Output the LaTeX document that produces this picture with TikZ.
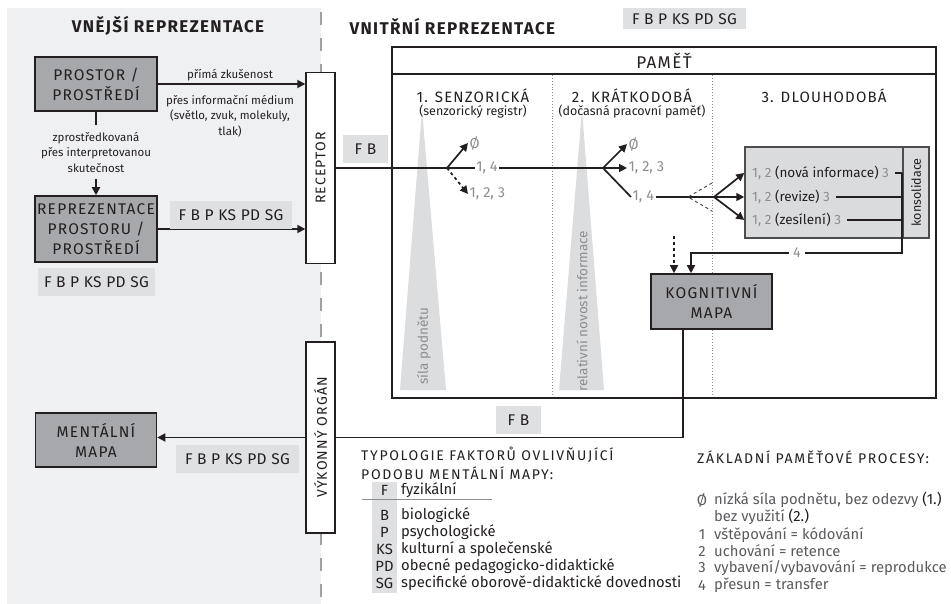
\documentclass[tikz,border=0pt]{standalone}
\usepackage{fontspec}
\setmainfont{Fira Sans}
\newfontfamily\spc[LetterSpace=8]{Fira Sans}
\newfontfamily\spcw[LetterSpace=12]{Fira Sans}
\newfontfamily\spcl[LetterSpace=3]{Fira Sans}
\usetikzlibrary{arrows.meta}
\definecolor{panelbg}{HTML}{EFF0F2}
\definecolor{boxdark}{HTML}{A7A8AB}
\definecolor{lbl}{HTML}{DFE0E2}
\definecolor{tri}{HTML}{DCDDDF}
\definecolor{ltfill}{HTML}{DADBDD}
\definecolor{ltborder}{HTML}{4D4D4F}
\definecolor{ink}{HTML}{231F20}
\definecolor{numgray}{HTML}{8C8D90}
\definecolor{leggray}{HTML}{5A5B5E}
\definecolor{dashgray}{HTML}{A0A1A4}
\begin{document}
\begin{tikzpicture}[x=1pt,y=-1pt,
  darkbox/.style={draw=ink, line width=1.6pt, fill=boxdark, align=center, text=ink, font=\fontsize{15.5}{20}\spc, inner sep=0pt},
  organ/.style={draw=ink, line width=1.4pt, fill=white, inner sep=0pt, minimum width=29pt, minimum height=191pt},
  organtxt/.style={rotate=90, font=\fontsize{14}{16}\spc, text=ink},
  lblbox/.style={fill=lbl, font=\fontsize{15.5}{17}\spcl, text=ink, inner sep=0pt, minimum height=28pt},
  conn/.style={draw=ink, line width=1.7pt},
  arr/.style={conn, -{Triangle[length=8pt,width=8pt]}},
  small/.style={font=\fontsize{11.5}{15.5}\selectfont, text=ink, align=center, inner sep=1pt},
  gnum/.style={font=\fontsize{14.5}{16}\selectfont, text=numgray, inner sep=1.5pt},
  coltitle/.style={font=\fontsize{15}{17}\spc, text=ink},
  colsub/.style={font=\fontsize{12.5}{14}\selectfont, text=ink},
  rotlbl/.style={rotate=90, font=\fontsize{13.5}{15}\selectfont, text=numgray},
  divider/.style={draw=numgray, line width=0.9pt, dotted},
  row/.style={font=\fontsize{13.5}{15}\selectfont, text=ink, inner xsep=4pt, inner ysep=1pt},
  legtitle/.style={font=\fontsize{14}{17}\spcw, text=ink, anchor=west, inner sep=0pt},
  legtxt/.style={font=\fontsize{14.8}{16}\selectfont, text=ink, anchor=west, inner sep=0pt},
  legabbr/.style={font=\fontsize{14.8}{16}\selectfont, text=ink, inner sep=0pt},
  rtxt/.style={font=\fontsize{14.8}{16}\selectfont, text=leggray, anchor=west, inner sep=0pt},
  rnum/.style={font=\fontsize{14.8}{16}\selectfont, text=leggray, inner sep=0pt},
]
\useasboundingbox (0,0) rectangle (951,604);
\fill[white] (0,0) rectangle (951,604);
% left panel
\fill[panelbg] (7,8) rectangle (321,604);
\draw[dashgray, line width=2.5pt, dash pattern=on 13pt off 13pt] (321,12) -- (321,604);

% headers
\node[font=\fontsize{17}{20}\spc\bfseries, text=ink] (hext) at (168,26) {VNĚJŠÍ REPREZENTACE};
\node[font=\fontsize{17}{20}\spc\bfseries, text=ink, anchor=west] (hint) at (346,27) {VNITŘNÍ REPREZENTACE};
\node[lblbox, minimum width=123pt, minimum height=21pt] (lbTop) at (684.5,19) {F B P KS PD SG};

% left boxes
\node[darkbox, minimum width=122pt, minimum height=54pt] (prostor) at (96,84) {PROSTOR /\\PROSTŘEDÍ};
\node[darkbox, minimum width=122pt, minimum height=66pt] (repr) at (96,229) {REPREZENTACE\\PROSTORU /\\PROSTŘEDÍ};
\node[darkbox, minimum width=121pt, minimum height=54pt] (mental) at (96,440) {MENTÁLNÍ\\MAPA};
\node[organ] (recep) at (320.5,168) {};
\node[organtxt] at (recep.center) {RECEPTOR};
\node[organ] (vykon) at (320.5,437.5) {};
\node[organtxt] at (vykon.center) {VÝKONNÝ ORGÁN};

\draw[arr] (prostor.east) -- (recep.west |- prostor.east);
\node[small] (primo) at (230,75) {přímá zkušenost};
\node[small] (medium) at (230,116) {přes informační médium\\(světlo, zvuk, molekuly,\\tlak)};
\node[small, inner ysep=7pt] (zpro) at (96,152) {zprostředkovaná\\přes interpretovanou\\skutečnost};
\draw[conn] (prostor.south) -- (zpro.north);
\draw[arr] (zpro.south) -- (repr.north);
\draw[arr] (repr.east) -- (recep.west |- repr.east);
\node[lblbox, minimum width=122pt] (lbA) at (231,215) {F B P KS PD SG};
\node[lblbox, minimum width=117pt] (lbB) at (96.5,282) {F B P KS PD SG};
\draw[arr] (vykon.west) -- (mental.east |- vykon.west);
\node[lblbox, minimum width=123pt] (lbC) at (237.5,459) {F B P KS PD SG};

% memory
\fill[tri] (422,110) -- (446,390) -- (400,390) -- cycle;
\fill[tri] (582,110) -- (604,390) -- (559,390) -- cycle;
\node[rotlbl] at (424,346) {síla podnětu};
\node[rotlbl] at (582,311) {relativní novost informace};
\draw[divider] (552,75) -- (552,398);
\draw[divider] (712,75) -- (712,398);
\node[draw=ink, line width=1.8pt, minimum width=544pt, minimum height=351pt, inner sep=0pt] (pamet) at (664,222.5) {};
\draw[ink, line width=1.2pt] ([yshift=-28pt]pamet.north west) -- ([yshift=-28pt]pamet.north east);
\node[font=\fontsize{17}{19}\spc, text=ink] (pametT) at (664,61) {PAMĚŤ};
\node[coltitle] (c1) at (473,96) {1. SENZORICKÁ};
\node[colsub] (c1s) at (473,112) {(senzorický registr)};
\node[coltitle] (c2) at (632,96) {2. KRÁTKODOBÁ};
\node[colsub] (c2s) at (632,112) {(dočasná pracovní paměť)};
\node[coltitle] (c3) at (824,96) {3. DLOUHODOBÁ};

\node[lblbox, minimum width=45pt] (lbFB1) at (365.5,149) {F B};

% flow
\coordinate (b1) at (447,168);
\coordinate (b2) at (603,168);
\draw[conn] (recep.east) -- (b1) -- (b2);
\node[gnum, fill=white] (l14a) at (487,168) {1, 4};
\node[gnum, anchor=west] (z1) at (468,143) {Ø};
\node[gnum, anchor=west] (n123a) at (468,194) {1, 2, 3};
\draw[arr] (b1) -- (z1.west);
\draw[arr, dashed] (b1) -- (n123a.west);

\node[gnum, anchor=west] (z2) at (627,144) {Ø};
\node[gnum, anchor=west] (n123b) at (627,168) {1, 2, 3};
\node[gnum, anchor=west] (n14b) at (631,197) {1, 4};
\draw[arr] (b2) -- (z2.west);
\draw[arr] (b2) -- (n123b.west);
\draw[conn] (b2) -- (n14b.west);
\coordinate (b3) at (714,197);
\draw[conn] (n14b.east) -- (b3);
\draw[ink!80, line width=1pt, dashed] ([shift={(-2,-14)}]b3) -- ([shift={(-26,0)}]b3) -- ([shift={(-2,14)}]b3);

% long-term box
\node[draw=ltborder, line width=1.5pt, fill=ltfill, minimum width=184pt, minimum height=91pt, inner sep=0pt] (lt) at (837,192.5) {};
\node[draw=ltborder, line width=1.5pt, fill=ltfill, minimum width=26pt, minimum height=91pt, inner sep=0pt] (kons) at (916,192.5) {};
\node[rotate=90, font=\fontsize{12.5}{14}\selectfont, text=ink] at (kons.center) {konsolidace};
\node[row, anchor=west] (r1) at (748,173) {\textcolor{numgray}{1, 2} (nová informace) \textcolor{numgray}{3}};
\node[row, anchor=west] (r2) at (748,197) {\textcolor{numgray}{1, 2} (revize) \textcolor{numgray}{3}};
\node[row, anchor=west] (r3) at (748,220) {\textcolor{numgray}{1, 2} (zesílení) \textcolor{numgray}{3}};
\draw[arr] (b3) -- (lt.west |- r1.west);
\draw[arr] (b3) -- (lt.west |- r2.west);
\draw[arr] (b3) -- (lt.west |- r3.west);
\draw[conn] ([xshift=2pt]r1.east) -- (kons.west |- r1.east);
\draw[conn] ([xshift=2pt]r2.east) -- (kons.west |- r2.east);
\draw[conn] ([xshift=2pt]r3.east) -- (kons.west |- r3.east);

% cognitive map
\node[darkbox, minimum width=121pt, minimum height=55pt] (kog) at (711.5,301.5) {KOGNITIVNÍ\\MAPA};
\draw[arr] (kons.west |- r1.east) -- ++(0,80) -| ([xshift=-20.5pt]kog.north);
\node[gnum, fill=white, inner xsep=4pt] (four) at (797,253) {4};
\coordinate (dtop) at (674,236);
\draw[arr, dashed] (dtop) -- (dtop |- kog.north);
\draw[conn] ([xshift=-28.5pt]kog.south) |- (vykon.east);
\node[lblbox, minimum width=45pt] (lbFB2) at (518.5,420) {F B};

% legend left
\node[legtitle] (tl1) at (361,455) {TYPOLOGIE FAKTORŮ OVLIVŇUJÍCÍ};
\node[legtitle] (tl2) at (361,473) {PODOBU MENTÁLNÍ MAPY:};
\fill[lbl] (372,482) rectangle (397,593);
\draw[numgray, line width=0.9pt] (362,499) -- (492,499);
\foreach \ab/\tx/\yy in {F/fyzikální/490, B/biologické/515, P/psychologické/532, KS/kulturní a společenské/549, PD/obecné pedagogicko-didaktické/566, SG/specifické oborově-didaktické dovednosti/583}{
  \node[legabbr] at (384.5,\yy) {\ab};
  \node[legtxt] at (401,\yy) {\tx};
}

% legend right
\node[legtitle] (tr) at (697,457) {ZÁKLADNÍ PAMĚŤOVÉ PROCESY:};
\node[rnum] at (702,500) {Ø};
\node[rtxt] at (714,500) {nízká síla podnětu, bez odezvy \textcolor{ink}{(1.)}};
\node[rtxt] at (714,517) {bez využití \textcolor{ink}{(2.)}};
\node[rnum] at (702,535) {1};
\node[rtxt] at (714,535) {vštěpování = kódování};
\node[rnum] at (702,551) {2};
\node[rtxt] at (714,551) {uchování = retence};
\node[rnum] at (702,568) {3};
\node[rtxt] at (714,568) {vybavení/vybavování = reprodukce};
\node[rnum] at (702,585) {4};
\node[rtxt] at (714,585) {přesun = transfer};
\end{tikzpicture}
\end{document}
